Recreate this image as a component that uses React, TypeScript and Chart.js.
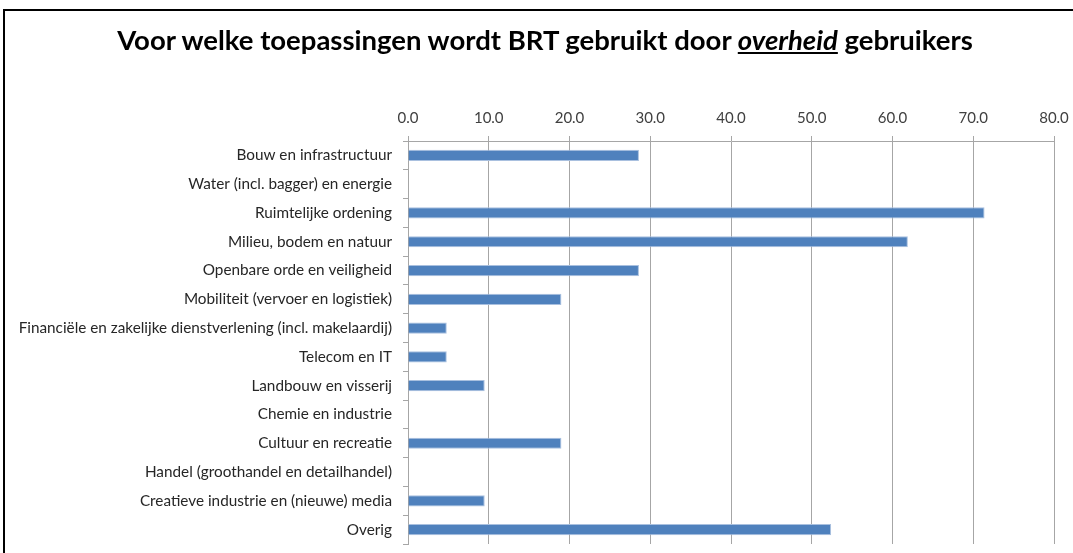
import React, { useEffect, useRef } from "react";
import { Chart, registerables } from "chart.js";
Chart.register(...registerables);

const categories = [
  "Bouw en infrastructuur",
  "Water (incl. bagger) en energie",
  "Ruimtelijke ordening",
  "Milieu, bodem en natuur",
  "Openbare orde en veiligheid",
  "Mobiliteit (vervoer en logistiek)",
  "Financiële en zakelijke dienstverlening (incl. makelaardij)",
  "Telecom en IT",
  "Landbouw en visserij",
  "Chemie en industrie",
  "Cultuur en recreatie",
  "Handel (groothandel en detailhandel)",
  "Creatieve industrie en (nieuwe) media",
  "Overig",
];

const values = [28.6, 0, 71.4, 61.9, 28.6, 19.0, 4.8, 4.8, 9.5, 0, 19.0, 0, 9.5, 52.4];

const xTicks = [0, 10, 20, 30, 40, 50, 60, 70, 80];

const titleBefore = "Voor welke toepassingen wordt BRT gebruikt door ";
const titleEmph = "overheid";
const titleAfter = " gebruikers";

export default function App() {
  const ref = useRef<HTMLCanvasElement>(null);
  useEffect(() => {
    const xFont = { family: "Lato", size: 15 };
    const yFont = { family: "Lato", size: 15.3 };
    const chart = new Chart(ref.current!, {
      type: "bar",
      data: {
        labels: categories,
        datasets: [
          {
            data: values,
            backgroundColor: "#4F81BD",
            borderColor: "#A9C0DF",
            borderWidth: 1,
            barPercentage: 0.39,
            categoryPercentage: 1,
          },
        ],
      },
      options: {
        indexAxis: "y",
        animation: false,
        responsive: false,
        maintainAspectRatio: false,
        layout: { padding: { left: 0, right: 19, top: 0, bottom: 9 } },
        plugins: { legend: { display: false }, tooltip: { enabled: false } },
        scales: {
          x: {
            position: "top",
            min: 0,
            max: 80,
            afterBuildTicks: (s: any) => {
              s.ticks = xTicks.map((v) => ({ value: v }));
            },
            ticks: {
              callback: (v: any) => Number(v).toFixed(1),
              font: xFont,
              color: "#404040",
              padding: 9,
              maxRotation: 0,
            },
            grid: { color: "#A6A6A6", tickLength: 5, lineWidth: 1 },
            border: { color: "#A6A6A6" },
            afterFit: (s: any) => {
              s.height = 141;
              s.paddingLeft = 0;
              s.paddingRight = 0;
            },
          },
          y: {
            ticks: { autoSkip: false, font: yFont, color: "#262626", padding: 11 },
            grid: {
              drawOnChartArea: false,
              tickLength: 5,
              color: "#A6A6A6",
              offset: true,
            },
            border: { color: "#A6A6A6" },
            afterFit: (s: any) => {
              s.width = 408;
              s.paddingTop = 0;
              s.paddingBottom = 0;
            },
          },
        },
      },
    } as any);
    return () => chart.destroy();
  }, []);

  return (
    <div style={{ position: "absolute", left: 0, top: 0, width: 1073, height: 553, background: "#fff", overflow: "hidden" }}>
      <div
        style={{
          position: "absolute",
          left: 3,
          top: 9,
          width: 1200,
          height: 700,
          borderLeft: "2px solid #000",
          borderTop: "2px solid #000",
        }}
      />
      <canvas ref={ref} width={1073} height={553} style={{ position: "absolute", left: 0, top: 0, width: 1073, height: 553 }} />
      <div
        style={{
          position: "absolute",
          left: 0,
          top: 21,
          width: 1090,
          textAlign: "center",
          fontFamily: "Lato",
          fontWeight: 700,
          fontSize: 27.5,
          color: "#000",
          whiteSpace: "nowrap",
          lineHeight: "38px",
        }}
      >
        {titleBefore}
        <span style={{ fontStyle: "italic", textDecoration: "underline" }}>{titleEmph}</span>
        {titleAfter}
      </div>
    </div>
  );
}
